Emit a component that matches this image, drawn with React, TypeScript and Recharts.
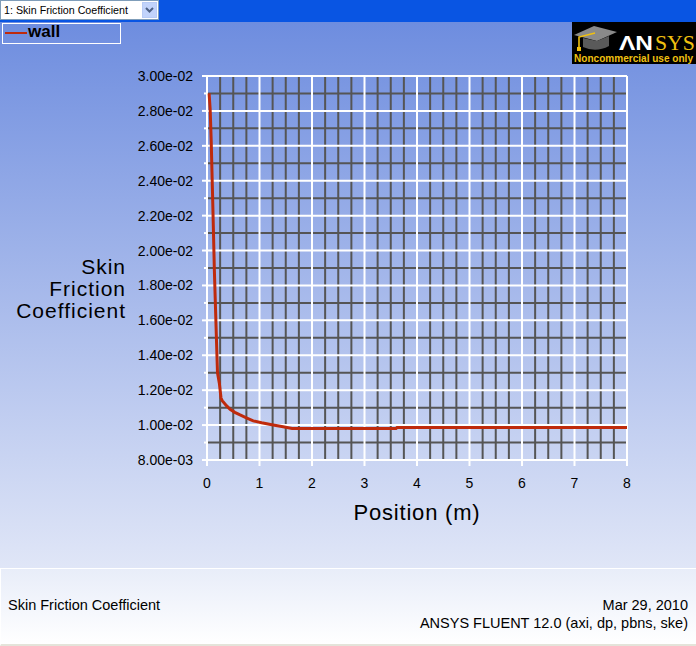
import React from 'react';
import { Line, LineChart, ReferenceLine, XAxis, YAxis } from 'recharts';

// wall skin friction coefficient along the position
const positions = [
  0.04, 0.06, 0.08, 0.095, 0.11, 0.125, 0.14, 0.16, 0.18, 0.2, 0.235, 0.267, 0.29, 0.375,
  0.44, 0.53, 0.63, 0.76, 0.88, 1.04, 1.26, 1.45, 1.62, 3.6, 3.62, 8.0,
];
const skinFriction = [
  0.029, 0.0281, 0.0263, 0.0245, 0.0227, 0.0208, 0.0189, 0.0169, 0.0149, 0.013, 0.0124,
  0.01155, 0.0114, 0.0111, 0.0109, 0.01073, 0.01058, 0.0104, 0.01024, 0.01013, 0.01, 0.0099,
  0.00981, 0.00981, 0.00986, 0.00986,
];

const xMajorTicks = [0, 1, 2, 3, 4, 5, 6, 7, 8];
const xMinorTicks = [
  0.25, 0.5, 0.75, 1.25, 1.5, 1.75, 2.25, 2.5, 2.75, 3.25, 3.5, 3.75, 4.25, 4.5, 4.75, 5.25,
  5.5, 5.75, 6.25, 6.5, 6.75, 7.25, 7.5, 7.75,
];
const yMajorTicks = [0.008, 0.01, 0.012, 0.014, 0.016, 0.018, 0.02, 0.022, 0.024, 0.026, 0.028, 0.03];
const yMinorTicks = [0.009, 0.011, 0.013, 0.015, 0.017, 0.019, 0.021, 0.023, 0.025, 0.027, 0.029];

const data = positions.map((x, i) => ({ x, cf: skinFriction[i] }));

const FONT = '"Liberation Sans", Arial, sans-serif';
const RED = '#bf2a0c';
const MINOR = '#555555';

const fmtExp = (v: number) => {
  const [m, e] = v.toExponential(2).split('e');
  const n = Math.abs(parseInt(e, 10));
  return `${m}e${parseInt(e, 10) < 0 ? '-' : '+'}${String(n).padStart(2, '0')}`;
};

const isMajorY = (v: number) => yMajorTicks.some((t) => Math.abs(t - v) < 1e-9);

function YTick(props: any) {
  const { x, y, payload } = props;
  const major = isMajorY(payload.value);
  return (
    <g>
      <line x1={x - (major ? 5 : 3)} x2={x} y1={y} y2={y} stroke="#ffffff" strokeWidth={2} />
      {major && (
        <text x={193} y={y} dy={5} textAnchor="end" fontSize={14} fontFamily={FONT} fill="#000">
          {fmtExp(payload.value)}
        </text>
      )}
    </g>
  );
}

function XTick(props: any) {
  const { x, y, payload } = props;
  return (
    <g>
      <line x1={x} x2={x} y1={y} y2={y + 6} stroke="#ffffff" strokeWidth={2} />
      <text x={x} y={y + 28} textAnchor="middle" fontSize={14} fontFamily={FONT} fill="#000">
        {payload.value}
      </text>
    </g>
  );
}

function LegendBox() {
  return (
    <div
      style={{
        position: 'absolute',
        left: 2,
        top: 23,
        width: 119,
        height: 21,
        border: '1px solid #ffffff',
        boxSizing: 'border-box',
      }}
    >
      <div style={{ position: 'absolute', left: 2, top: 8, width: 22, height: 2, background: RED }} />
      <div
        style={{ position: 'absolute', left: 25, top: -2, fontSize: 17, fontWeight: 'bold', color: '#000' }}
      >
        wall
      </div>
    </div>
  );
}

function AnsysLogo() {
  return (
    <svg width={124} height={42} style={{ position: 'absolute', left: 572, top: 22 }}>
      <rect width={124} height={42} fill="#000" />
      <polygon points="2,13 22,4 45,10 25,19" fill="#8a8a8a" />
      <path d="M11,16 L11,25 Q24,31 37,24 L37,14 L25,19 Z" fill="#5a5a5a" />
      <polyline points="23,11 7,15 7,26" fill="none" stroke="#f0c010" strokeWidth={1.6} />
      <rect x={5} y={25} width={4} height={4} fill="#f0c010" />
      <text
        x={47}
        y={28}
        fontSize={21}
        fontWeight="bold"
        fontFamily={FONT}
        fill="#fff"
        textLength={34}
        lengthAdjust="spacingAndGlyphs"
      >
        ΛN
      </text>
      <text
        x={83}
        y={28}
        fontSize={21}
        fontFamily='"Liberation Serif", serif'
        fill="#f0c010"
        textLength={40}
        lengthAdjust="spacingAndGlyphs"
      >
        SYS
      </text>
      <text
        x={2}
        y={40}
        fontSize={10}
        fontWeight="bold"
        fontFamily={FONT}
        fill="#f0c010"
        textLength={119}
        lengthAdjust="spacingAndGlyphs"
      >
        Noncommercial use only
      </text>
    </svg>
  );
}

export default function App() {
  return (
    <div
      style={{
        position: 'absolute',
        left: 0,
        top: 0,
        width: 696,
        height: 646,
        overflow: 'hidden',
        background: 'linear-gradient(to bottom, #6e8ddf 22px, #e0e6f7 568px)',
        fontFamily: FONT,
      }}
    >
      {/* top bar with the plot selector */}
      <div style={{ position: 'absolute', left: 0, top: 0, width: 696, height: 22, background: '#0955e3' }} />
      <div
        style={{
          position: 'absolute',
          left: 0,
          top: 0,
          width: 159,
          height: 20,
          background: '#fff',
          border: '1px solid #7f9db9',
          boxSizing: 'border-box',
        }}
      >
        <span style={{ position: 'absolute', left: 3, top: 3, fontSize: 10.7, color: '#000' }}>
          1: Skin Friction Coefficient
        </span>
        <div
          style={{
            position: 'absolute',
            right: 1,
            top: 1,
            width: 15,
            height: 16,
            background: '#c1d3fb',
            border: '1px solid #b7cbf5',
            boxSizing: 'border-box',
          }}
        >
          <svg width={13} height={14} style={{ position: 'absolute', left: 0, top: 0 }}>
            <polyline points="3,5 6.5,8.5 10,5" fill="none" stroke="#4d6185" strokeWidth={2} />
          </svg>
        </div>
      </div>

      <AnsysLogo />
      <LegendBox />

      <div style={{ position: 'absolute', left: 0, top: 0 }}>
        <LineChart width={696} height={646} data={data} margin={{ top: 76, right: 69, bottom: 126, left: 0 }}>
          <XAxis
            type="number"
            dataKey="x"
            domain={[0, 8]}
            ticks={xMajorTicks}
            interval={0}
            height={60}
            axisLine={false}
            tickLine={false}
            tickSize={0}
            tickMargin={0}
            tick={<XTick />}
          />
          <YAxis
            type="number"
            domain={[0.008, 0.03]}
            ticks={[...yMajorTicks, ...yMinorTicks].sort((a, b) => a - b)}
            interval={0}
            width={207}
            axisLine={false}
            tickLine={false}
            tickSize={0}
            tickMargin={0}
            tick={<YTick />}
            allowDataOverflow
          />
          {xMinorTicks.map((v) => (
            <ReferenceLine key={`xm${v}`} x={v} stroke={MINOR} strokeWidth={2} />
          ))}
          {yMinorTicks.map((v) => (
            <ReferenceLine key={`ym${v}`} y={v} stroke={MINOR} strokeWidth={2} />
          ))}
          {xMajorTicks.map((v) => (
            <ReferenceLine key={`xM${v}`} x={v} stroke="#ffffff" strokeWidth={2} />
          ))}
          {yMajorTicks.map((v) => (
            <ReferenceLine key={`yM${v}`} y={v} stroke="#ffffff" strokeWidth={2} />
          ))}
          <Line
            type="linear"
            dataKey="cf"
            name="wall"
            stroke={RED}
            strokeWidth={3}
            dot={false}
            isAnimationActive={false}
          />
        </LineChart>
      </div>

      {/* axis titles */}
      <div
        style={{
          position: 'absolute',
          right: 696 - 126,
          top: 256,
          textAlign: 'right',
          fontSize: 21,
          lineHeight: '22px',
          letterSpacing: 1,
          color: '#000',
          whiteSpace: 'nowrap',
        }}
      >
        Skin
        <br />
        Friction
        <br />
        Coefficient
      </div>
      <div
        style={{
          position: 'absolute',
          left: 207,
          width: 420,
          top: 500,
          textAlign: 'center',
          fontSize: 22,
          letterSpacing: 0.8,
          color: '#000',
        }}
      >
        Position (m)
      </div>

      {/* footer */}
      <div
        style={{
          position: 'absolute',
          left: 0,
          top: 568,
          width: 696,
          height: 78,
          boxSizing: 'border-box',
          borderTop: '1px solid #ffffff',
          borderLeft: '1px solid #ffffff',
          borderBottom: '2px solid #e4e4da',
          background: 'linear-gradient(to bottom, #e8edf9, #ffffff)',
          fontSize: 14.5,
          color: '#000',
        }}
      >
        <span style={{ position: 'absolute', left: 7, top: 28 }}>Skin Friction Coefficient</span>
        <span style={{ position: 'absolute', right: 8, top: 28 }}>Mar 29, 2010</span>
        <span style={{ position: 'absolute', right: 8, top: 46 }}>ANSYS FLUENT 12.0 (axi, dp, pbns, ske)</span>
      </div>
    </div>
  );
}
